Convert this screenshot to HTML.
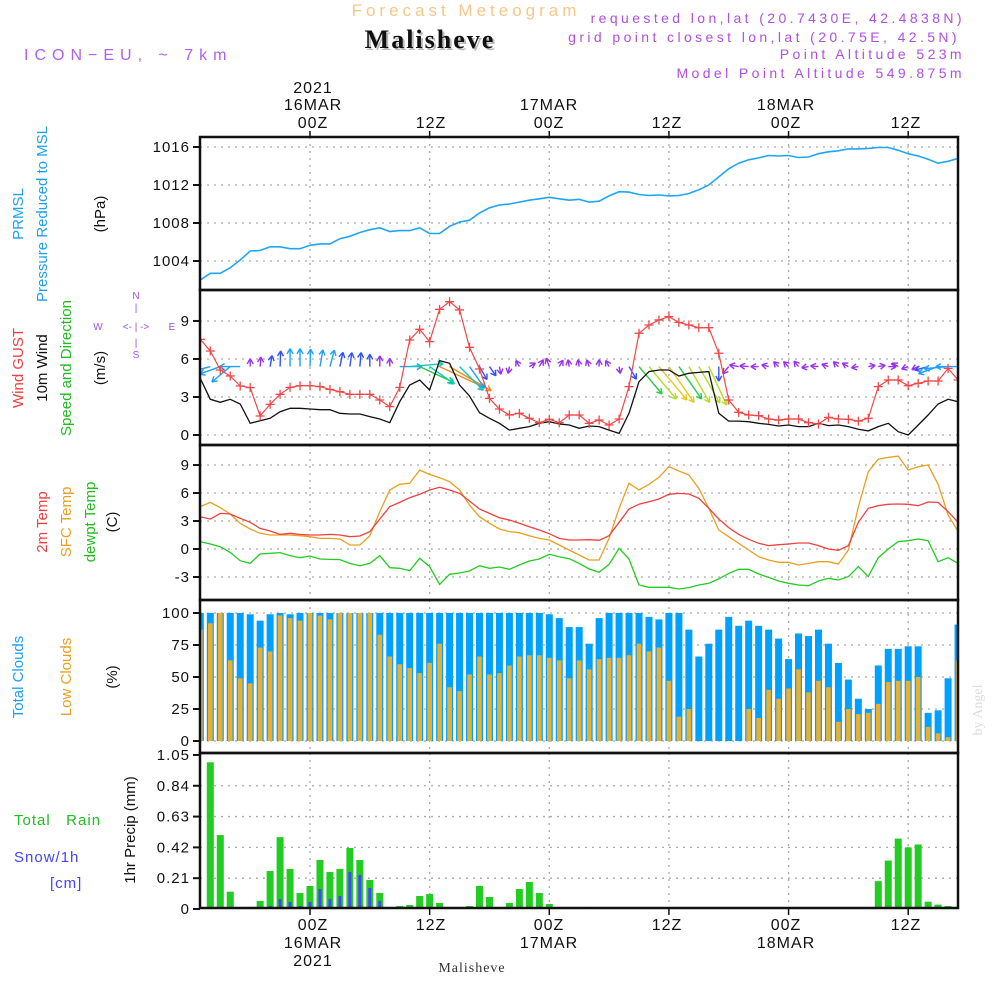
<!DOCTYPE html>
<html><head><meta charset="utf-8"><title>Meteogram Malisheve</title>
<style>
html,body{margin:0;padding:0;background:#fff;}
svg{display:block;font-family:"Liberation Sans",sans-serif;}
</style></head>
<body>
<svg id="chart" width="1000" height="1000" viewBox="0 0 1000 1000" xmlns="http://www.w3.org/2000/svg">
<defs>
<clipPath id="cp1"><rect x="200" y="137" width="758" height="153"/></clipPath>
<clipPath id="cp2"><rect x="200" y="290" width="758" height="155"/></clipPath>
<clipPath id="cp3"><rect x="200" y="445" width="758" height="155"/></clipPath>
<clipPath id="cp4"><rect x="200" y="600" width="758" height="153"/></clipPath>
<clipPath id="cp5"><rect x="200" y="753" width="758" height="155"/></clipPath>
</defs>
<text x="466" y="16" text-anchor="middle" font-size="17" fill="#f5c88a" letter-spacing="4">Forecast Meteogram</text>
<text x="432" y="50" text-anchor="middle" font-size="26" font-weight="bold" fill="#bbb" font-family="Liberation Serif, serif" letter-spacing="2">Malisheve</text>
<text x="430" y="48" text-anchor="middle" font-size="26" font-weight="bold" fill="#111" font-family="Liberation Serif, serif" letter-spacing="2">Malisheve</text>
<text x="24" y="60" font-size="16" fill="#b060f0" letter-spacing="6">ICON−EU, ~ 7km</text>
<g font-size="14" fill="#b050e0" text-anchor="end" letter-spacing="3.4">
<text x="965" y="23">requested lon,lat (20.7430E, 42.4838N)</text>
<text x="960" y="42">grid point closest lon,lat (20.75E, 42.5N)</text>
<text x="965" y="59">Point Altitude 523m</text>
<text x="965" y="78">Model Point Altitude 549.875m</text>
</g>
<g font-size="16" fill="#111" text-anchor="middle" letter-spacing="1">
<text x="313" y="93">2021</text>
<text x="313" y="110">16MAR</text><text x="313" y="128">00Z</text>
<text x="431" y="128">12Z</text>
<text x="549" y="110">17MAR</text><text x="549" y="128">00Z</text>
<text x="667" y="128">12Z</text>
<text x="786" y="110">18MAR</text><text x="786" y="128">00Z</text>
<text x="906" y="128">12Z</text>
</g>
<g font-size="16" fill="#111" text-anchor="middle" letter-spacing="1">
<text x="313" y="930">00Z</text><text x="313" y="948">16MAR</text><text x="313" y="966">2021</text>
<text x="431" y="930">12Z</text>
<text x="549" y="930">00Z</text><text x="549" y="948">17MAR</text>
<text x="667" y="930">12Z</text>
<text x="786" y="930">00Z</text><text x="786" y="948">18MAR</text>
<text x="906" y="930">12Z</text>
</g>
<text x="472" y="972" text-anchor="middle" font-size="14" fill="#333" font-family="Liberation Serif, serif" letter-spacing="1">Malisheve</text>
<text transform="translate(982,710) rotate(-90)" text-anchor="middle" font-size="14" fill="#ddd" font-family="Liberation Serif, serif">by Angel</text>

<g font-size="15" text-anchor="middle">
<text transform="translate(23,214) rotate(-90)" fill="#1ea0f0">PRMSL</text>
<text transform="translate(47,214) rotate(-90)" fill="#1ea0f0">Pressure Reduced to MSL</text>
<text transform="translate(105,214) rotate(-90)" fill="#111">(hPa)</text>
<text transform="translate(23,368) rotate(-90)" fill="#f04040">Wind GUST</text>
<text transform="translate(47,368) rotate(-90)" fill="#111">10m Wind</text>
<text transform="translate(71,368) rotate(-90)" fill="#22bb22">Speed and Direction</text>
<text transform="translate(105,368) rotate(-90)" fill="#111">(m/s)</text>
<text transform="translate(47,522) rotate(-90)" fill="#f04040">2m Temp</text>
<text transform="translate(71,522) rotate(-90)" fill="#e8a020">SFC Temp</text>
<text transform="translate(95,522) rotate(-90)" fill="#22bb22">dewpt Temp</text>
<text transform="translate(117,522) rotate(-90)" fill="#111">(C)</text>
<text transform="translate(23,677) rotate(-90)" fill="#1ea0f0">Total Clouds</text>
<text transform="translate(71,677) rotate(-90)" fill="#e8a020">Low Clouds</text>
<text transform="translate(117,677) rotate(-90)" fill="#111">(%)</text>
<text transform="translate(135,830) rotate(-90)" fill="#111">1hr Precip (mm)</text>
</g>
<g font-size="15" letter-spacing="1">
<text x="14" y="825" fill="#22bb22" xml:space="preserve">Total   Rain</text>
<text x="14" y="862" fill="#4444ff">Snow/1h</text>
<text x="50" y="888" fill="#4444ff">[cm]</text>
</g>
<g font-size="10" fill="#a050e0" text-anchor="middle">
<text x="136" y="299">N</text>
<text x="136" y="311">|</text>
<text x="98" y="330">W</text>
<text x="136" y="330">&lt;- | -&gt;</text>
<text x="172" y="330">E</text>
<text x="136" y="346">|</text>
<text x="136" y="358">S</text>
</g>
<g id="plots"></g>
</svg>
<script>
const hours = [];
for (let h = -11; h <= 65; h++) hours.push(h);
const pressure = [1002.0,1002.7,1002.7,1003.3,1004.1,1005.05,1005.1,1005.5,1005.5,1005.3,1005.3,1005.65,1005.8,1005.8,1006.35,1006.6,1007.0,1007.3,1007.5,1007.1,1007.2,1007.2,1007.5,1006.9,1006.9,1007.65,1008.1,1008.3,1009.05,1009.6,1009.9,1010.0,1010.2,1010.4,1010.55,1010.7,1010.55,1010.4,1010.5,1010.2,1010.3,1010.85,1011.3,1011.25,1011.0,1010.9,1010.95,1010.85,1010.9,1011.1,1011.5,1012.0,1012.85,1013.7,1014.3,1014.65,1014.85,1015.1,1015.05,1015.1,1014.9,1014.95,1015.3,1015.5,1015.6,1015.8,1015.8,1015.85,1015.95,1015.95,1015.65,1015.3,1015.05,1014.7,1014.3,1014.5,1014.8];
const gust = [7.55,6.63,5.13,4.66,3.87,3.74,1.5,2.42,3.21,3.76,3.89,3.89,3.82,3.6,3.42,3.21,3.21,3.21,2.76,2.24,3.76,7.5,8.34,7.37,9.92,10.52,9.87,6.92,5.21,2.89,2.05,1.58,1.71,1.32,0.97,1.24,0.97,1.58,1.58,0.92,1.18,0.79,1.26,3.82,8.03,8.68,9.08,9.34,8.89,8.68,8.47,8.47,6.45,2.76,1.79,1.58,1.53,1.26,1.18,1.26,1.26,0.97,0.87,1.39,1.26,1.24,1.1,1.32,3.82,4.34,4.34,3.89,4.08,4.26,4.26,5.26,4.34];
const wind = [4.47,2.82,2.58,2.82,2.45,0.92,1.13,1.32,1.84,2.11,2.11,2.05,2.0,2.0,1.71,1.66,1.66,1.45,1.26,0.97,2.63,3.95,4.34,3.55,5.87,5.66,3.95,3.08,1.76,1.32,0.92,0.39,0.53,0.66,0.92,1.05,0.87,0.79,0.53,0.71,0.66,0.39,0.13,1.71,4.21,5.0,5.13,5.13,4.66,4.87,4.94,5.0,1.71,1.1,1.1,1.05,0.92,0.84,0.71,0.79,0.66,0.66,0.92,0.74,0.79,0.66,0.45,0.32,0.66,0.92,0.26,0.0,0.79,1.58,2.45,2.82,2.63];
const windToward = [250,195,200,220,180,90,85,80,88,90,90,88,80,75,78,82,85,90,90,90,0,5,-25,-35,-25,-30,-45,-55,-60,-55,-80,-100,120,30,60,110,60,100,100,110,90,120,-80,-60,-50,-50,-50,-55,-55,-60,-60,-65,-90,230,170,175,180,165,135,135,130,190,175,160,135,150,190,10,10,0,150,200,205,195,200,185,180];
const temp2m = [3.46,3.21,3.82,3.75,3.29,2.86,2.21,1.93,1.57,1.68,1.57,1.5,1.5,1.57,1.5,1.32,1.39,1.86,3.21,4.54,5.0,5.5,5.86,6.32,6.61,6.32,5.96,5.14,4.29,3.82,3.36,3.11,2.75,2.39,2.04,1.64,1.14,0.96,0.96,1.0,0.93,1.43,2.86,4.29,4.79,5.07,5.36,5.86,5.96,5.89,5.43,4.36,3.21,2.29,1.57,1.04,0.61,0.36,0.46,0.54,0.64,0.64,0.36,0,-0.14,0.36,2.86,4.36,4.64,4.79,4.82,4.79,4.64,5.04,5.0,4.0,2.86];
const tempSfc = [4.54,5.0,4.43,3.75,2.75,2.14,1.68,1.5,1.5,1.5,1.43,1.32,1.14,1.14,1.07,0.43,0.43,1.43,4.0,6.32,6.93,7.04,8.46,8.0,7.64,7.21,6.32,4.71,3.46,2.75,2.14,1.86,1.75,1.43,1.14,0.96,0.43,-0.11,-0.64,-1.18,-1.18,1.14,4.36,7.04,6.32,6.93,7.68,8.82,8.36,7.93,6.5,4.36,2.04,1.32,0.61,-0.11,-0.82,-1.18,-1.43,-1.43,-1.71,-1.54,-1.36,-1.36,-1.61,-0.11,4.54,8.29,9.64,9.82,9.96,8.46,8.82,9.0,6.93,3.64,1.86];
const dewpt = [0.79,0.54,0.25,-0.36,-1.25,-1.54,-0.54,-0.46,-0.39,-0.71,-0.93,-0.75,-1.07,-1.11,-1.14,-1.54,-1.79,-1.54,-0.71,-2.0,-2.07,-2.32,-1.0,-1.89,-3.79,-2.71,-2.57,-2.36,-1.79,-2.07,-1.93,-2.18,-1.71,-1.29,-1.07,-0.57,-0.82,-1.04,-1.54,-2.14,-2.5,-1.64,0.07,-1.07,-3.86,-4.11,-4.11,-4.11,-4.29,-4.14,-3.86,-3.68,-3.21,-2.61,-2.18,-2.18,-2.68,-3.04,-3.43,-3.68,-3.86,-3.93,-3.43,-3.14,-3.32,-2.96,-1.89,-2.96,-0.93,0,0.79,0.89,1.07,0.89,-1.36,-0.93,-1.54];
const totalClouds = [100,100,100,100,100,99,94,99,100,99,100,100,100,100,100,100,100,100,100,100,100,100,100,100,100,100,100,100,100,100,100,100,100,100,100,99,96,89,89,76,96,100,100,100,100,97,95,100,100,87,66,76,87,97,90,94,90,87,80,64,84,82,87,76,61,48,33,25,59,72,72,74,74,22,24,49,91];
const lowClouds = [87,92,100,63,49,45,73,70,98,96,94,100,98,95,100,100,100,100,83,66,60,57,53,61,76,42,39,52,66,52,53,59,66,67,67,65,63,49,63,56,64,65,65,67,76,70,73,47,19,25,0,0,0,0,0,25,18,40,33,41,56,38,47,42,15,25,21,22,29,46,47,47,50,11,6,3,63];
const rain = [0,1.0,0.504,0.118,0,0.014,0.055,0.259,0.49,0.273,0.109,0.157,0.334,0.252,0.273,0.416,0.334,0.198,0.109,0,0.02,0.027,0.089,0.102,0.041,0,0,0.02,0.157,0.082,0,0.041,0.136,0.184,0.109,0.034,0,0,0,0.014,0,0,0,0,0,0,0,0,0,0,0,0,0,0,0,0,0,0,0,0,0,0,0,0,0,0,0,0,0.19,0.33,0.48,0.42,0.44,0.05,0.03,0.02,0];
const snow = [0,0,0,0,0,0,0,0.02,0.068,0.048,0.02,0.048,0.136,0.068,0.089,0.252,0.232,0.143,0.055,0,0,0,0,0,0,0,0,0,0,0,0,0,0,0,0,0,0,0,0,0,0,0,0,0,0,0,0,0,0,0,0,0,0,0,0,0,0,0,0,0,0,0,0,0,0,0,0,0,0,0,0,0,0,0,0,0,0];
const pTicks = [1004,1008,1012,1016];
const wTicks = [0,3,6,9];
const tTicks = [-3,0,3,6,9];
const cTicks = [0,25,50,75,100];
const rTicks = [0,0.21,0.42,0.63,0.84,1.05];
const rTickLabels = ["0","0.21","0.42","0.63","0.84","1.05"];
const gridHours = [0,12,24,36,48,60];

const NS = "http://www.w3.org/2000/svg";
const plots = document.getElementById('plots');
function mk(tag, attrs, parent) {
  const e = document.createElementNS(NS, tag);
  for (const k in attrs) e.setAttribute(k, attrs[k]);
  (parent || plots).appendChild(e);
  return e;
}
const xT = h => 310 + 9.97 * h;
const yP = p => 147 + (1016 - p) * 9.5;
const yW = v => 435 - 12.67 * v;
const yT = t => 549 - 9.33 * t;
const yC = c => 741 - 1.28 * c;
const yR = r => 909 - 146.7 * r;

const panels = [
  {name:'pressure', top:137, bot:290, ticks:pTicks, ys:yP, labels:pTicks.map(String)},
  {name:'wind', top:290, bot:445, ticks:wTicks, ys:yW, labels:wTicks.map(String)},
  {name:'temperature', top:445, bot:600, ticks:tTicks, ys:yT, labels:tTicks.map(String)},
  {name:'clouds', top:600, bot:753, ticks:cTicks, ys:yC, labels:cTicks.map(String)},
  {name:'precip', top:753, bot:908, ticks:rTicks, ys:yR, labels:rTickLabels}
];
panels.forEach((pn) => {
  const g = mk('g', {});
  
  
  pn.ticks.forEach((t, k) => {
    const y = pn.ys(t);
    if (y > pn.top + 3 && y < pn.bot - 3) mk('line', {x1:200, x2:958, y1:y, y2:y, stroke:'#aaa', 'stroke-width':1.3, 'stroke-dasharray':'2,5'}, g);
    mk('line', {x1:193, x2:200, y1:y, y2:y, stroke:'#111', 'stroke-width':2}, g);
    const tl = mk('text', {x:190, y:y + 5, 'text-anchor':'end', 'font-size':15, fill:'#111', 'letter-spacing':1}, g);
    
    
    tl.textContent = pn.labels[k];
  });
  gridHours.forEach(h => {
    mk('line', {x1:xT(h), x2:xT(h), y1:pn.top, y2:pn.bot, stroke:'#aaa', 'stroke-width':1.3, 'stroke-dasharray':'2,5'}, g);
  });
});
gridHours.forEach(h => {
  mk('line', {x1:xT(h), x2:xT(h), y1:131, y2:137, stroke:'#111', 'stroke-width':1.5});
  mk('line', {x1:xT(h), x2:xT(h), y1:908, y2:915, stroke:'#111', 'stroke-width':1.5});
});

function linePath(vals, ys, color, name, clip, w) {
  const d = vals.map((v, i) => (i ? 'L' : 'M') + xT(hours[i]).toFixed(1) + ',' + ys(v).toFixed(1)).join('');
  const p = mk('path', {d:d, fill:'none', stroke:color, 'stroke-width':w || 1.4, 'clip-path':clip});
  
  
  return p;
}
linePath(pressure, yP, '#1ea6f5', 'pressure-line', 'url(#cp1)', 1.6);

const gWind = mk('g', {'clip-path':'url(#cp2)'});


function windColor(v) {
  if (v < 1.3) return '#9a30f0';
  if (v < 1.9) return '#3050ff';
  if (v < 3.5) return '#1ea0ff';
  if (v < 4.2) return '#10c8c0';
  if (v < 4.7) return '#22cc44';
  if (v < 5.1) return '#b0dd20';
  if (v < 5.5) return '#e8c820';
  return '#ee8a20';
}
windToward.forEach((a, i) => {
  const v = wind[i];
  const L = Math.max(7, 8.5 * v);
  const x0 = xT(hours[i]), y0 = yW(5.4);
  const r = a * Math.PI / 180;
  const x1 = x0 + L * Math.cos(r), y1 = y0 - L * Math.sin(r);
  const c = windColor(v);
  const ar = mk('g', {stroke:c, 'stroke-width':1.4, fill:'none'}, gWind);
  
  
  mk('line', {x1:x0, y1:y0, x2:x1, y2:y1}, ar);
  [150, -150].forEach(o => {
    const rr = r + o * Math.PI / 180;
    mk('line', {x1:x1, y1:y1, x2:x1 + 6 * Math.cos(rr), y2:y1 - 6 * Math.sin(rr)}, ar);
  });
});
linePath(gust, yW, '#f04848', 'gust-line', 'url(#cp2)', 1.2);
linePath(wind, yW, '#111', 'wind-speed-line', 'url(#cp2)', 1.3);
const gG = mk('g', {stroke:'#f04848', 'stroke-width':1.3, 'clip-path':'url(#cp2)'});


gust.forEach((v, i) => {
  const x = xT(hours[i]), y = yW(v);
  mk('path', {d:`M${x-4.5},${y}H${x+4.5}M${x},${y-4.5}V${y+4.5}`}, gG);
});

linePath(tempSfc, yT, '#e8a020', 'sfc-temp-line', 'url(#cp3)', 1.3);
linePath(temp2m, yT, '#f04040', 'temp-2m-line', 'url(#cp3)', 1.3);
linePath(dewpt, yT, '#22cc22', 'dewpoint-line', 'url(#cp3)', 1.3);

const gC = mk('g', {'clip-path':'url(#cp4)'});


totalClouds.forEach((c, i) => {
  const x = xT(hours[i]);
  const b = mk('rect', {x:x - 3.5, y:yC(c), width:7, height:741 - yC(c), fill:'#00a0ff'}, gC);
  
  
  const o = mk('rect', {x:x - 2.3, y:yC(lowClouds[i]), width:4.6, height:741 - yC(lowClouds[i]), fill:'#e8b030'}, gC);
  
  
});

const gR = mk('g', {'clip-path':'url(#cp5)'});


rain.forEach((r, i) => {
  const x = xT(hours[i]);
  if (r > 0) {
    const b = mk('rect', {x:x - 3.5, y:yR(r), width:7, height:909 - yR(r), fill:'#22cc22'}, gR);
    
    
  }
  if (snow[i] > 0) {
    const s = mk('rect', {x:x - 1.5, y:yR(snow[i]), width:3, height:909 - yR(snow[i]), fill:'#4444ff'}, gR);
    
    
  }
});

panels.forEach(pn => {
  const f = mk('rect', {x:200, y:pn.top, width:758, height:pn.bot - pn.top, fill:'none', stroke:'#111', 'stroke-width':2.5});
  
  
});
</script>
</body></html>
